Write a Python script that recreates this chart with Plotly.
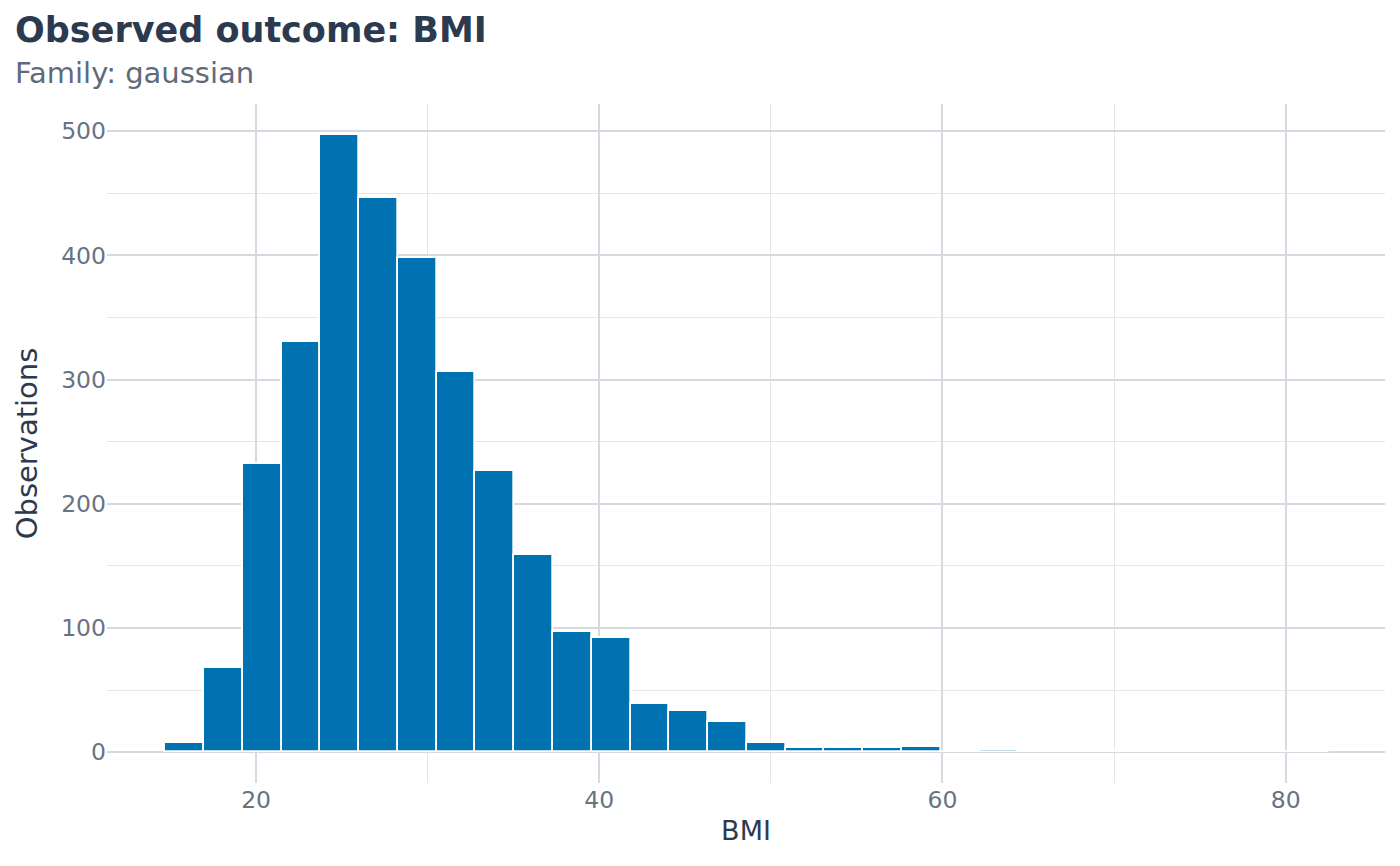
import numpy as np
import plotly.graph_objects as go

# histogram of BMI, 30 bins
bin_start = 14.7
bin_width = 2.26
counts = [7, 68, 232, 330, 497, 446, 398, 306, 226, 159,
          97, 92, 39, 33, 24, 7, 3, 3, 3, 4,
          0, 2, 0, 0, 0, 0, 0, 0, 0, 0]

x_ticks = [20, 40, 60, 80]
y_ticks = [0, 100, 200, 300, 400, 500]

centers = bin_start + bin_width * (np.arange(len(counts)) + 0.5)

title_col = "#2c3a4f"
sub_col = "#5f6b7b"
tick_col = "#687384"
grid_major = "#d6d9e0"
grid_minor = "#e4e6eb"

# page body has an 8px margin, so the figure is a bit smaller than the window
W, H = 1384, 850

fig = go.Figure()
fig.add_trace(go.Bar(
    x=centers, y=counts, width=bin_width,
    marker=dict(color="#0072b2", line=dict(color="white", width=1.7)),
    hoverinfo="x+y", showlegend=False,
))

lo = bin_start
hi = bin_start + bin_width * len(counts)
pad = (hi - lo) * 0.05
ypad = max(counts) * 0.05

fig.update_layout(
    width=W, height=H,
    paper_bgcolor="white", plot_bgcolor="white",
    font=dict(family="DejaVu Sans", color=tick_col),
    margin=dict(l=99, r=7, t=96, b=75),
    bargap=0,
    title=dict(text="<b>Observed outcome: BMI</b>", font=dict(size=35, color=title_col),
               x=7 / W, xref="container", xanchor="left",
               y=1 - 9 / H, yref="container", yanchor="top"),
    annotations=[dict(text="Family: gaussian", xref="paper", yref="paper",
                      x=-94 / 1278, y=1 + 30.5 / 679, xanchor="left", yanchor="middle",
                      showarrow=False, font=dict(size=29, color=sub_col))],
    xaxis=dict(range=[lo - pad, hi + pad - 0.1], tickvals=x_ticks, showline=False, zeroline=False,
               showgrid=True, gridcolor=grid_major, gridwidth=2, ticks="",
               tickfont=dict(size=23.5, color=tick_col),
               minor=dict(dtick=10, tick0=0, showgrid=True, gridcolor=grid_minor, gridwidth=1),
               title=dict(text="BMI", font=dict(size=27, color=title_col), standoff=8)),
    yaxis=dict(range=[-ypad, max(counts) + ypad], tickvals=y_ticks, showline=False, zeroline=False,
               showgrid=True, gridcolor=grid_major, gridwidth=2, ticks="",
               tickfont=dict(size=23.5, color=tick_col),
               minor=dict(dtick=50, tick0=0, showgrid=True, gridcolor=grid_minor, gridwidth=1),
               title=dict(text="Observations", font=dict(size=29, color=title_col), standoff=14)),
)

fig.write_html("out.html")
